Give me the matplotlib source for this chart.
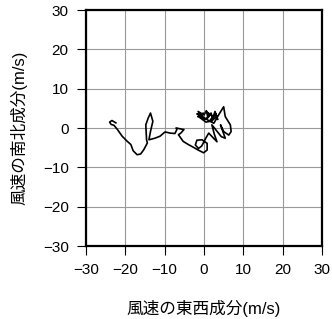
import matplotlib
matplotlib.use('Agg')
import matplotlib.pyplot as plt

# 風速の東西成分 u, 南北成分 v (m/s)
u = [-22.4, -23.4, -24.0, -23.6, -22.9, -22.0, -20.8, -19.5, -18.6, -18.0,
     -17.0, -16.1, -15.3, -14.4, -14.6, -14.8, -14.2, -13.6, -13.0, -13.6,
     -14.0, -12.5, -11.2, -9.9, -8.6, -7.4, -6.9, -7.1, -6.1, -5.1,
     -5.9, -6.5, -5.3, -4.0, -2.7, -1.5, -0.1, 0.8, 0.8, -0.5,
     -1.8, -2.2, -1.4, -0.6, 0.5, 1.2, 3.3, 2.6, 2.0, 4.4,
     5.4, 4.2, 5.0, 6.3, 6.9, 6.7, 5.4, 5.0, 3.7, 2.5,
     1.0, -0.5, -1.8, -0.8, -1.5, 0.0, 0.6, 1.0, 1.8, 2.2,
     2.8, 3.2, 2.0, 0.5, -1.0, -0.2, -1.6, 0.4, 1.5, 0.8,
     2.4, 1.6, 3.0, 3.5]
v = [1.3, 1.9, 1.5, 0.9, 0.7, -0.4, -2.1, -3.4, -4.2, -5.8,
     -6.8, -6.6, -5.5, -3.8, -3.0, 0.8, 2.5, 3.8, 1.7, -0.85,
     -3.0, -2.6, -2.1, -1.0, -1.3, -1.4, -0.4, 0.0, -0.2, -0.4,
     -1.3, -1.7, -3.4, -4.2, -4.9, -5.6, -6.3, -5.6, -3.9, -3.0,
     -3.1, -4.3, -5.2, -4.6, -2.5, -1.3, -3.5, -1.5, 0.8, -2.2,
     -2.6, 0.8, -0.9, -1.8, -0.9, 0.8, 2.9, 5.4, 3.3, 1.2,
     2.0, 3.0, 3.6, 3.2, 4.2, 3.3, 4.4, 2.6, 3.8, 2.4,
     4.2, 3.0, 1.8, 1.5, 2.6, 3.8, 2.9, 2.2, 3.4, 4.0,
     2.8, 2.0, 3.6, 2.2]

ticks = [-30, -20, -10, 0, 10, 20, 30]

plt.rcParams['font.family'] = ['Liberation Sans', 'Noto Sans CJK JP']

fig = plt.figure(figsize=(3.32, 3.19), dpi=100)
ax = fig.add_axes([86 / 332, 73 / 319, 236 / 332, 236 / 319])

ax.plot(u, v, color='black', lw=1.2, zorder=3)

ax.set_xlim(-30, 30)
ax.set_ylim(-30, 30)
ax.set_xticks(ticks)
ax.set_yticks(ticks)
ax.set_xticklabels([str(t).replace('-', '\u2212') for t in ticks])
ax.set_yticklabels([str(t).replace('-', '\u2212') for t in ticks])
ax.grid(True, color='0.6', lw=0.8)
ax.set_axisbelow(True)
for s in ax.spines.values():
    s.set_linewidth(1.6)
ax.tick_params(direction='out', length=6.5, width=0.8, labelsize=11, pad=6)

ax.set_xlabel('風速の東西成分(m/s)', fontsize=12, labelpad=16)
ax.set_ylabel('風速の南北成分(m/s)', fontsize=12, labelpad=11)

fig.savefig('out.png', dpi=100)
